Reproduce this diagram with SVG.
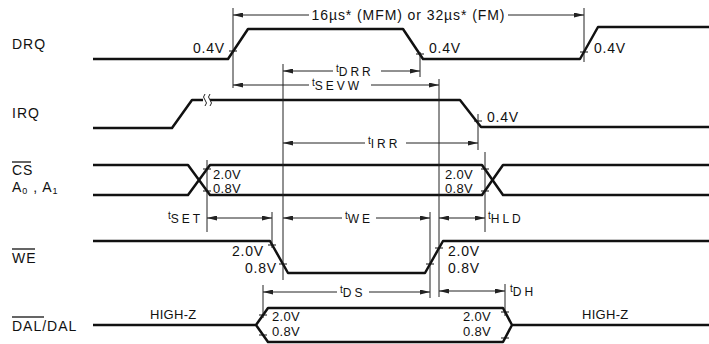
<svg xmlns="http://www.w3.org/2000/svg" width="709" height="344" viewBox="0 0 709 344">
<style>
.sig{fill:none;stroke:#111;stroke-width:2.5;stroke-linejoin:round}
.dim{fill:none;stroke:#222;stroke-width:1}
.ext{fill:none;stroke:#222;stroke-width:1}
.tick{stroke:#111;stroke-width:1.2}
text{font-family:"Liberation Sans",Arial,sans-serif;fill:#111}
.lbl{font-size:14px;letter-spacing:1px}
.v{font-size:13px;letter-spacing:0.3px}
.v14{font-size:14px;letter-spacing:0.8px}
.tl{font-size:12px;letter-spacing:3px}
.ts{font-size:10px;letter-spacing:0}
</style>
<defs>
<marker id="ar" viewBox="0 0 10 5" refX="10" refY="2.5" markerWidth="10" markerHeight="5" markerUnits="userSpaceOnUse" orient="auto-start-reverse">
<path d="M0,0 L10,2.5 L0,5 z" fill="#222"/>
</marker>
</defs>
<rect width="709" height="344" fill="#fff"/>

<g id="labels">
<text class="lbl" x="12" y="49">DRQ</text>
<text class="lbl" x="12" y="118">IRQ</text>
<text class="lbl" x="12" y="175">CS</text>
<line x1="12" y1="162" x2="31" y2="162" stroke="#111" stroke-width="1.3"/>
<text class="lbl" x="12" y="192">A<tspan font-size="9" dy="2">0</tspan><tspan dy="-2"> , A</tspan><tspan font-size="9" dy="2">1</tspan></text>
<text class="lbl" x="12" y="263">WE</text>
<line x1="12" y1="249" x2="35" y2="249" stroke="#111" stroke-width="1.3"/>
<text class="lbl" x="12" y="331" letter-spacing="0.6">DAL/DAL</text>
<line x1="12" y1="317" x2="44" y2="317" stroke="#111" stroke-width="1.3"/>
</g>

<g id="DRQ">
<path class="sig" d="M93,59 L228,59 L248,29 L403,29 L423,59 L580,59 L598,27 L709,27"/>
<text class="v14" x="193" y="53">0.4V</text>
<text class="v14" x="429" y="53">0.4V</text>
<text class="v14" x="594" y="53">0.4V</text>
</g>

<g id="IRQ">
<path class="sig" d="M93,128 L172,128 L192,100 L203,100 M210,100 L460,100 L481,127 L709,127"/>
<path class="dim" d="M205,94 q-3,3 0,6 q3,3 0,6 M210,94 q-3,3 0,6 q3,3 0,6" stroke-width="1.3"/>
<text class="v14" x="487" y="122">0.4V</text>
</g>

<g id="CS">
<path class="sig" d="M93,165 L188,165 L210,195 L482,195 L503,165 L709,165"/>
<path class="sig" d="M93,195 L188,195 L210,165 L482,165 L503,195 L709,195"/>
<text class="v" x="213" y="179">2.0V</text>
<text class="v" x="213" y="193">0.8V</text>
<text class="v" x="445" y="179">2.0V</text>
<text class="v" x="445" y="193">0.8V</text>
</g>

<g id="WE">
<path class="sig" d="M93,241 L270,241 L288,273 L425,273 L443,241 L709,241"/>
<text class="v14" x="232" y="256">2.0V</text>
<text class="v14" x="245" y="273">0.8V</text>
<text class="v14" x="448" y="256">2.0V</text>
<text class="v14" x="448" y="273">0.8V</text>
</g>

<g id="DAL">
<path class="sig" d="M93,325 L256,325 L268,308 L503,308 L512,325 L709,325 M256,325 L268,342 L503,342 L512,325"/>
<text class="v" x="272" y="321">2.0V</text>
<text class="v" x="272" y="336">0.8V</text>
<text class="v" x="463" y="321">2.0V</text>
<text class="v" x="463" y="336">0.8V</text>
<text class="v" x="150" y="319" letter-spacing="1.3">HIGH-Z</text>
<text class="v" x="582" y="319" letter-spacing="1.3">HIGH-Z</text>
</g>

<g id="connectors">
<line class="ext" x1="233" y1="8" x2="233" y2="88"/>
<line class="ext" x1="584" y1="8" x2="584" y2="62"/>
<line class="ext" x1="283" y1="64" x2="283" y2="280"/>
<line class="ext" x1="420" y1="52" x2="420" y2="77"/>
<line class="ext" x1="439" y1="79" x2="439" y2="297"/>
<line class="ext" x1="478" y1="114" x2="478" y2="150"/>
<line class="ext" x1="207" y1="160" x2="207" y2="232"/>
<line class="ext" x1="485" y1="152" x2="485" y2="232"/>
<line class="ext" x1="272" y1="212" x2="272" y2="248"/>
<line class="ext" x1="430" y1="212" x2="430" y2="298"/>
<line class="ext" x1="263" y1="285" x2="263" y2="318"/>
<line class="ext" x1="505" y1="284" x2="505" y2="316"/>
<path class="tick" d="M229,51 h8 M416,54 h8 M580,52 h8 M474,121 h8 M203,169 h8 M203,191 h8 M481,169 h8 M481,191 h8 M268,245 h8 M279,264 h8 M426,264 h8 M435,248 h8 M259,315 h8 M259,335 h8 M501,312 h8 M501,338 h8"/>
<line class="dim" x1="309" y1="15" x2="233" y2="15" marker-end="url(#ar)"/>
<line class="dim" x1="508" y1="15" x2="584" y2="15" marker-end="url(#ar)"/>
<text x="408" y="20" font-size="14" text-anchor="middle" textLength="193" lengthAdjust="spacing">16µs* (MFM) or 32µs* (FM)</text>
<line class="dim" x1="333" y1="71" x2="283" y2="71" marker-end="url(#ar)"/>
<line class="dim" x1="381" y1="71" x2="420" y2="71" marker-end="url(#ar)"/>
<text x="336" y="76"><tspan class="ts" dy="-4">t</tspan><tspan class="tl" dy="4">DRR</tspan></text>
<line class="dim" x1="309" y1="85" x2="233" y2="85" marker-end="url(#ar)"/>
<line class="dim" x1="371" y1="85" x2="439" y2="85" marker-end="url(#ar)"/>
<text x="312" y="90"><tspan class="ts" dy="-4">t</tspan><tspan class="tl" dy="4">SEVW</tspan></text>
<line class="dim" x1="365" y1="143" x2="283" y2="143" marker-end="url(#ar)"/>
<line class="dim" x1="406" y1="143" x2="478" y2="143" marker-end="url(#ar)"/>
<text x="368" y="148"><tspan class="ts" dy="-4">t</tspan><tspan class="tl" dy="4">IRR</tspan></text>
<line class="dim" x1="207" y1="218" x2="272" y2="218" marker-start="url(#ar)" marker-end="url(#ar)"/>
<text x="168" y="223"><tspan class="ts" dy="-4">t</tspan><tspan class="tl" dy="4">SET</tspan></text>
<line class="dim" x1="342" y1="218" x2="283" y2="218" marker-end="url(#ar)"/>
<line class="dim" x1="376" y1="218" x2="430" y2="218" marker-end="url(#ar)"/>
<text x="345" y="223"><tspan class="ts" dy="-4">t</tspan><tspan class="tl" dy="4" letter-spacing="2">WE</tspan></text>
<line class="dim" x1="439" y1="218" x2="485" y2="218" marker-start="url(#ar)" marker-end="url(#ar)"/>
<text x="488" y="223"><tspan class="ts" dy="-4">t</tspan><tspan class="tl" dy="4">HLD</tspan></text>
<line class="dim" x1="337" y1="292" x2="263" y2="292" marker-end="url(#ar)"/>
<line class="dim" x1="369" y1="292" x2="430" y2="292" marker-end="url(#ar)"/>
<text x="340" y="297"><tspan class="ts" dy="-4">t</tspan><tspan class="tl" dy="4" letter-spacing="2">DS</tspan></text>
<line class="dim" x1="439" y1="291" x2="505" y2="291" marker-start="url(#ar)" marker-end="url(#ar)"/>
<text x="510" y="296"><tspan class="ts" dy="-4">t</tspan><tspan class="tl" dy="4" letter-spacing="2">DH</tspan></text>
</g>
</svg>
